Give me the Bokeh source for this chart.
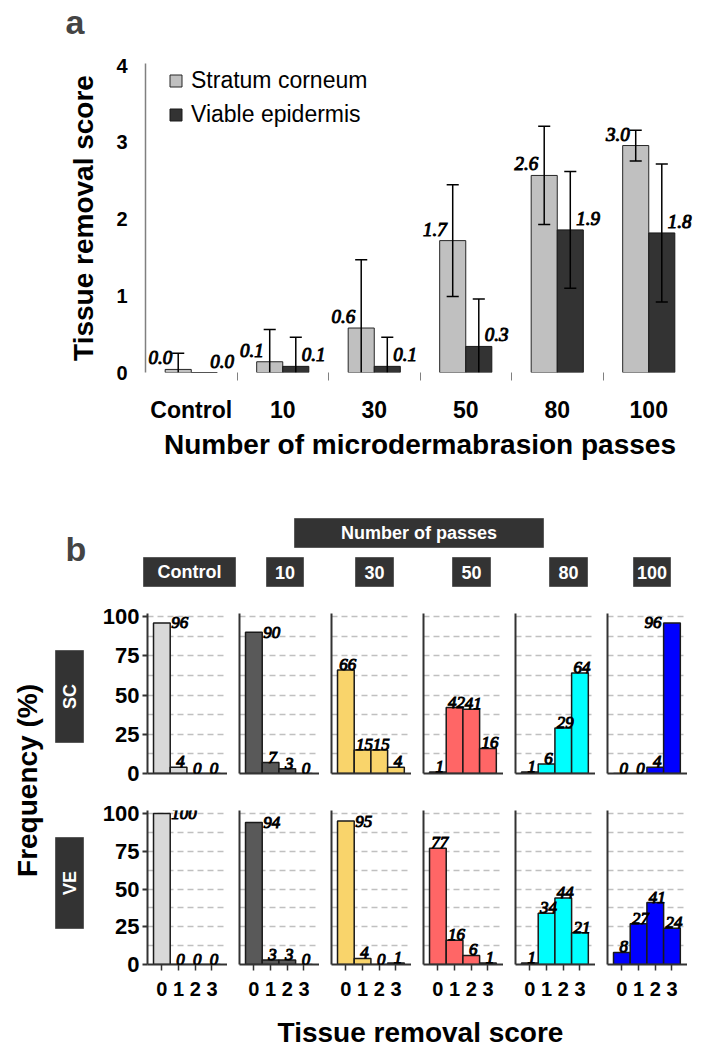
import numpy as np
from bokeh.plotting import figure
from bokeh.models import (ColumnDataSource, Range1d, FixedTicker, Label, LabelSet,
                          Legend, LegendItem, BoxAnnotation)
from bokeh.layouts import column, row
from bokeh.embed import file_html
from bokeh.resources import INLINE

FONT = "Liberation Sans"

# ---------------- data: panel a ----------------
passes = ["Control", "10", "30", "50", "80", "100"]
sc_mean = [0.04, 0.14, 0.58, 1.72, 2.57, 2.96]
sc_sd = [0.21, 0.42, 0.89, 0.73, 0.64, 0.20]
ve_mean = [0.0, 0.08, 0.08, 0.34, 1.86, 1.82]
ve_sd = [0.0, 0.38, 0.38, 0.62, 0.76, 0.90]
series_names = ["Stratum corneum", "Viable epidermis"]

# ---------------- data: panel b ----------------
scores = [0, 1, 2, 3]
sc_freq = [[96, 4, 0, 0], [90, 7, 3, 0], [66, 15, 15, 4],
           [1, 42, 41, 16], [1, 6, 29, 64], [0, 0, 4, 96]]
ve_freq = [[100, 0, 0, 0], [94, 3, 3, 0], [95, 4, 0, 1],
           [77, 16, 6, 1], [1, 34, 44, 21], [8, 27, 41, 24]]
row_names = ["SC", "VE"]
panel_colors = ["#d9d9d9", "#595959", "#f9d46b", "#ff6666", "#00ffff", "#0000ff"]

W = 723


def blank(w, h, x0, y0):
    f = figure(width=w, height=h, x_range=Range1d(x0, x0 + w), y_range=Range1d(y0 + h, y0),
               x_axis_type=None, y_axis_type=None, output_backend="svg",
               toolbar_location=None, min_border=0, title=None)
    f.outline_line_color = None
    f.grid.visible = False
    return f


def box(f, l, r, t, b, text, angle=0.0, size="18px"):
    f.add_layout(BoxAnnotation(left=l, right=r, top=t, bottom=b, fill_color="#333333",
                               fill_alpha=1, line_color="#5a5a5a", line_alpha=1, line_width=1))
    f.add_layout(Label(x=(l + r) / 2, y=(t + b) / 2, text=text, angle=angle,
                       text_align="center", text_baseline="middle", text_color="white",
                       text_font=FONT, text_font_size=size, text_font_style="bold"))


# =============== strip with "a" ===============
astrip = blank(W, 45, 0, 0)
astrip.add_layout(Label(x=65, y=21, text="a", text_font=FONT, text_font_size="34px",
                        text_font_style="bold", text_baseline="middle"))

# =============== panel a ===============
pa = figure(width=W, height=425, x_range=Range1d(-0.5, 5.5), y_range=Range1d(0, 4.03),
            output_backend="svg", toolbar_location=None, title=None,
            min_border_left=145, min_border_right=29, min_border_top=18, min_border_bottom=98)
pa.outline_line_color = None
pa.xgrid.visible = False
pa.ygrid.visible = False

idx = np.arange(len(passes))
bw = 0.285
sc_x = idx - bw / 2
ve_x = idx + bw / 2
r_sc = pa.vbar(x=sc_x, top=sc_mean, width=bw, bottom=0, fill_color="#c0c0c0",
               line_color="#262626", line_width=1)
r_ve = pa.vbar(x=ve_x, top=ve_mean, width=bw, bottom=0, fill_color="#333333",
               line_color="#1a1a1a", line_width=1)

cap = 0.066
for xs, m, s in ((sc_x, np.array(sc_mean), np.array(sc_sd)),
                 (ve_x, np.array(ve_mean), np.array(ve_sd))):
    has = s > 0
    lo = np.maximum(m - s, 0)
    hi = m + s
    pa.segment(x0=xs[has], y0=lo[has], x1=xs[has], y1=hi[has], line_color="black", line_width=1.5)
    pa.segment(x0=xs[has] - cap, y0=hi[has], x1=xs[has] + cap, y1=hi[has],
               line_color="black", line_width=1.5)
    low = has & (m - s > 0)
    pa.segment(x0=xs[low] - cap, y0=lo[low], x1=xs[low] + cap, y1=lo[low],
               line_color="black", line_width=1.5)

src_sc = ColumnDataSource(dict(x=sc_x, y=sc_mean, t=[f"{v:.1f}" for v in sc_mean]))
src_ve = ColumnDataSource(dict(x=ve_x, y=ve_mean, t=[f"{v:.1f}" for v in ve_mean]))
for src, align, xo in ((src_sc, "right", -6), (src_ve, "left", 6)):
    pa.add_layout(LabelSet(x="x", y="y", text="t", source=src, x_offset=xo, y_offset=5,
                           text_align=align, text_baseline="bottom", text_font=FONT,
                           text_font_size="19px", text_font_style="italic",
                           text_color="black", text_outline_color="black"))

pa.xaxis.ticker = FixedTicker(ticks=list(range(6)), minor_ticks=[0.5, 1.5, 2.5, 3.5, 4.5])
pa.xaxis.major_label_overrides = {i: passes[i] for i in range(6)}
pa.xaxis.axis_line_color = None
pa.xaxis.major_tick_line_color = None
pa.xaxis.major_tick_out = 0
pa.xaxis.major_tick_in = 0
pa.xaxis.minor_tick_line_color = "#808080"
pa.xaxis.minor_tick_out = 8
pa.xaxis.minor_tick_in = 0
pa.xaxis.major_label_standoff = 16
pa.xaxis.major_label_text_font = FONT
pa.xaxis.major_label_text_font_size = "23px"
pa.xaxis.major_label_text_font_style = "bold"
pa.xaxis.major_label_text_color = "black"
pa.xaxis.axis_label = "Number of microdermabrasion passes"
pa.xaxis.axis_label_text_font = FONT
pa.xaxis.axis_label_text_font_size = "28px"
pa.xaxis.axis_label_text_font_style = "bold"
pa.xaxis.axis_label_text_color = "black"
pa.xaxis.axis_label_standoff = 3

pa.yaxis.ticker = FixedTicker(ticks=[0, 1, 2, 3, 4])
pa.yaxis.axis_line_color = "#808080"
pa.yaxis.axis_line_width = 1.5
pa.yaxis.major_tick_line_color = None
pa.yaxis.major_tick_out = 0
pa.yaxis.major_tick_in = 0
pa.yaxis.minor_tick_line_color = None
pa.yaxis.major_label_standoff = 18
pa.yaxis.major_label_text_font = FONT
pa.yaxis.major_label_text_font_size = "20px"
pa.yaxis.major_label_text_font_style = "bold"
pa.yaxis.major_label_text_color = "black"
pa.yaxis.axis_label = "Tissue removal score"
pa.yaxis.axis_label_text_font = FONT
pa.yaxis.axis_label_text_font_size = "28px"
pa.yaxis.axis_label_text_font_style = "bold"
pa.yaxis.axis_label_text_color = "black"
pa.yaxis.axis_label_standoff = 14

legend = Legend(items=[LegendItem(label=series_names[0], renderers=[r_sc]),
                       LegendItem(label=series_names[1], renderers=[r_ve])],
                location=(23, 244), orientation="vertical", padding=0, margin=0,
                spacing=7, label_height=26, glyph_width=15, glyph_height=15,
                label_standoff=8, border_line_color=None, background_fill_alpha=0,
                label_text_font=FONT, label_text_font_size="23px", label_text_color="black")
pa.add_layout(legend)

# =============== header of panel b ===============
hdr = blank(W, 130, 0, 470)
hdr.add_layout(Label(x=65, y=548, text="b", text_font=FONT, text_font_size="34px",
                     text_font_style="bold", text_baseline="middle"))
box(hdr, 294, 543, 518, 547, "Number of passes")
hdr_boxes = [(143, 235), (266, 303), (355, 393), (452, 490), (549, 587), (633, 670)]
for (l, r), name in zip(hdr_boxes, passes):
    box(hdr, l, r, 557, 586, name)

# =============== left strip: Frequency + row boxes ===============
ROW_H = [193, 213]
freq = blank(90, sum(ROW_H), 0, 600)
freq.add_layout(Label(x=27, y=780, text="Frequency (%)", angle=np.pi / 2,
                      text_align="center", text_baseline="middle", text_font=FONT,
                      text_font_size="28px", text_font_style="bold", text_color="black"))
box(freq, 55, 83, 650, 742, row_names[0], angle=np.pi / 2)
box(freq, 55, 83, 837, 928, row_names[1], angle=np.pi / 2)

# =============== panel b grid ===============
TOPB = [13, 17]
BOTB = [20, 42]
rows = []
for ri, data in enumerate((sc_freq, ve_freq)):
    figs = []
    for ci, vals in enumerate(data):
        w = 137 if ci == 0 else 92
        p = figure(width=w, height=ROW_H[ri], x_range=Range1d(-0.86, 3.93),
                   y_range=Range1d(0, 102), output_backend="svg", toolbar_location=None,
                   title=None, min_border_left=57 if ci == 0 else 12, min_border_right=0,
                   min_border_top=TOPB[ri], min_border_bottom=BOTB[ri])
        p.outline_line_color = None
        p.xgrid.visible = False
        p.ygrid.ticker = FixedTicker(ticks=[12.5 * k for k in range(1, 9)])
        p.ygrid.grid_line_color = "#c0c0c0"
        p.ygrid.grid_line_dash = "6 4"
        p.ygrid.grid_line_width = 1.5

        p.vbar(x=scores, top=vals, width=1.0, bottom=0, fill_color=panel_colors[ci],
               line_color="#1a1a1a", line_width=1.5)

        groups = {"above": dict(x=[], y=[], t=[]), "left": dict(x=[], y=[], t=[]),
                  "right": dict(x=[], y=[], t=[])}
        for k, v in zip(scores, vals):
            if v >= 85 and k == 0:
                g = groups["left"]; g["x"].append(k + 0.5)
            elif v >= 85:
                g = groups["right"]; g["x"].append(k - 0.5)
            else:
                g = groups["above"]; g["x"].append(k)
            g["y"].append(v); g["t"].append(str(v))
        specs = {"above": ("center", "bottom", 2, 0), "left": ("left", "middle", 1, 0),
                 "right": ("right", "middle", -2, 0)}
        for key, g in groups.items():
            if not g["x"]:
                continue
            al, bl, xo, yo = specs[key]
            p.add_layout(LabelSet(x="x", y="y", text="t", source=ColumnDataSource(g),
                                  x_offset=xo, y_offset=yo, text_align=al, text_baseline=bl,
                                  text_font=FONT, text_font_size="17px",
                                  text_font_style="italic", text_color="black",
                                  text_outline_color="black"))

        for a in (p.xaxis, p.yaxis):
            a.axis_line_color = "#333333"
            a.axis_line_width = 2
            a.minor_tick_line_color = None
            a.major_label_text_font = FONT
            a.major_label_text_font_style = "bold"
            a.major_label_text_color = "black"
        if ci == 0:
            p.yaxis.ticker = FixedTicker(ticks=[0, 25, 50, 75, 100])
            p.yaxis.major_tick_out = 5
            p.yaxis.major_tick_in = 0
            p.yaxis.major_tick_line_width = 2
            p.yaxis.major_tick_line_color = "#333333"
            p.yaxis.major_label_standoff = 3
            p.yaxis.major_label_text_font_size = "22px"
        else:
            p.yaxis.ticker = FixedTicker(ticks=[])
            p.yaxis.major_tick_line_color = None
        if ri == 1:
            p.xaxis.ticker = FixedTicker(ticks=scores)
            p.xaxis.major_tick_out = 6
            p.xaxis.major_tick_in = 0
            p.xaxis.major_tick_line_width = 1.5
            p.xaxis.major_tick_line_color = "#333333"
            p.xaxis.major_label_standoff = 11
            p.xaxis.major_label_text_font_size = "20px"
        else:
            p.xaxis.ticker = FixedTicker(ticks=[])
            p.xaxis.major_tick_line_color = None
        figs.append(p)
    rows.append(row(*figs))

footer = blank(W, 42, 0, 1006)
footer.add_layout(Label(x=420, y=1032, text="Tissue removal score", text_align="center",
                        text_baseline="middle", text_font=FONT, text_font_size="28px",
                        text_font_style="bold", text_color="black"))

layout = column(row(astrip), pa, row(hdr), row(freq, column(*rows)), row(footer))

open("out.html", "w").write(file_html(layout, INLINE, "Tissue removal"))
